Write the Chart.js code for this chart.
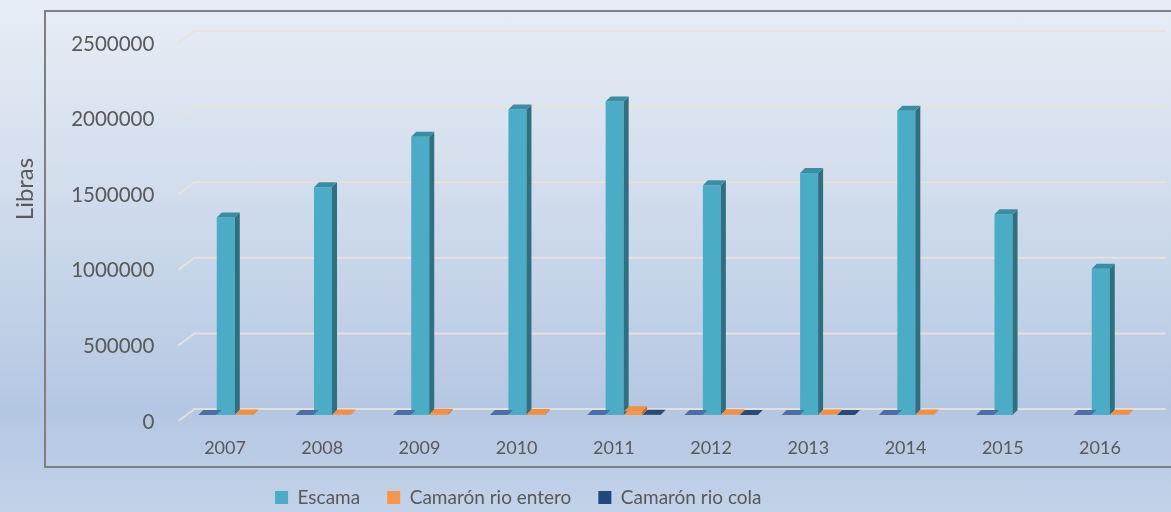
<!DOCTYPE html>
<html>
<head>
<meta charset="utf-8">
<script src="https://cdn.jsdelivr.net/npm/chart.js@4/dist/chart.umd.min.js"></script>
<style>
  html, body { margin: 0; padding: 0; }
  body {
    width: 1171px; height: 512px; overflow: hidden; position: relative;
    background: linear-gradient(to bottom, #e7edf5 0%, #d3deed 35%, #b4c7e2 80%, #c2d2e8 100%);
  }
  #frame {
    position: absolute; left: 44px; top: 10px; width: 1200px; height: 458px;
    border: 2px solid #7f7f7f; box-sizing: border-box;
  }
  #wrap { position: absolute; left: 0; top: 0; width: 1171px; height: 512px; }
</style>
</head>
<body>
<div id="frame"></div>
<div id="wrap"><canvas id="chart" width="1171" height="512"></canvas></div>
<script>
const years = ['2007', '2008', '2009', '2010', '2011', '2012', '2013', '2014', '2015', '2016'];
// serie sin leyenda (la tapa azul a la izquierda de cada grupo)
const otros = [0, 0, 0, 0, 0, 0, 0, 0, 0, 0];
const escama = [1307000, 1507000, 1840000, 2020000, 2073000, 1520000, 1600000, 2013000, 1327000, 967000];
const camaronEntero = [3000, 3000, 8000, 6000, 25000, 5000, 4000, 3000, null, 2000];
const camaronCola = [null, null, null, null, 1500, 800, 800, null, null, null];
const yTicks = [0, 500000, 1000000, 1500000, 2000000, 2500000];

const textColor = '#595959';
const fontFamily = 'Lato, "Noto Sans", sans-serif';

// caras laterales y superiores para dar el efecto 3D
const depth = {
  id: 'depth',
  afterDatasetsDraw(chart) {
    const ctx = chart.ctx;
    const dx = 5, dy = 5;
    chart.data.datasets.forEach((ds, i) => {
      const meta = chart.getDatasetMeta(i);
      meta.data.forEach((bar, j) => {
        if (ds.data[j] === null) return;
        const { x, y, base, width } = bar.getProps(['x', 'y', 'base', 'width'], true);
        const l = x - width / 2, r = x + width / 2;
        ctx.save();
        ctx.fillStyle = ds.sideColor;
        ctx.beginPath();
        ctx.moveTo(r, y); ctx.lineTo(r + dx, y - dy); ctx.lineTo(r + dx, base - dy); ctx.lineTo(r, base);
        ctx.closePath(); ctx.fill();
        ctx.fillStyle = ds.topColor;
        ctx.beginPath();
        ctx.moveTo(l, y); ctx.lineTo(l + dx, y - dy); ctx.lineTo(r + dx, y - dy); ctx.lineTo(r, y);
        ctx.closePath(); ctx.fill();
        ctx.restore();
      });
    });
  }
};

// lineas de la pared del fondo
const backGrid = {
  id: 'backGrid',
  beforeDatasetsDraw(chart) {
    const ctx = chart.ctx;
    const s = chart.scales.y;
    const { left, right } = chart.chartArea;
    ctx.save();
    ctx.strokeStyle = 'rgba(232,226,218,0.9)';
    ctx.lineWidth = 2;
    s.ticks.forEach(t => {
      const y = s.getPixelForValue(t.value);
      ctx.beginPath();
      ctx.moveTo(left - 8, y + 6);
      ctx.lineTo(left + 8, y - 6);
      ctx.lineTo(right + 7, y - 6);
      ctx.stroke();
    });
    ctx.restore();
  }
};

const axisTitle = {
  id: 'axisTitle',
  afterLayout(chart) {
    chart.legend.left -= 61;
    chart.legend.right -= 61;
  },
  afterDraw(chart) {
    const ctx = chart.ctx;
    ctx.save();
    ctx.translate(25, 189);
    ctx.rotate(-Math.PI / 2);
    ctx.font = '24px ' + fontFamily;
    ctx.fillStyle = textColor;
    ctx.textAlign = 'center';
    ctx.textBaseline = 'middle';
    ctx.fillText('Libras', 0, 0);
    ctx.restore();
  }
};

new Chart(document.getElementById('chart').getContext('2d'), {
  type: 'bar',
  data: {
    labels: years,
    datasets: [
      { label: '', data: otros, backgroundColor: '#4f81bd', topColor: '#4a6fa6', sideColor: '#3b5f8f' },
      { label: 'Escama', data: escama, backgroundColor: '#4bacc6', topColor: '#3a8ea3', sideColor: '#2e6f80' },
      { label: 'Camarón rio entero', data: camaronEntero, backgroundColor: '#f79646', topColor: '#f09040', sideColor: '#c06e2c' },
      { label: 'Camarón rio cola', data: camaronCola, backgroundColor: '#1f497d', topColor: '#2b4a73', sideColor: '#1a3658' }
    ]
  },
  options: {
    responsive: false,
    animation: false,
    events: [],
    layout: { padding: { top: 37, right: 12.4, bottom: -5, left: 0 } },
    datasets: { bar: { categoryPercentage: 0.76, barPercentage: 0.975, borderWidth: 0 } },
    scales: {
      x: {
        grid: { display: false },
        border: { display: false },
        ticks: { color: textColor, font: { family: fontFamily, size: 18 }, padding: 14, labelOffset: -10, maxRotation: 0 },
        afterFit(scale) { scale.height = 46; }
      },
      y: {
        min: 0,
        max: 2500000,
        grid: { display: false },
        border: { display: false },
        afterBuildTicks(scale) { scale.ticks = yTicks.map(v => ({ value: v })); },
        ticks: { color: textColor, font: { family: fontFamily, size: 20.5 }, padding: 24, labelOffset: 7, callback: v => String(v) },
        afterFit(scale) { scale.width = 186.4; }
      }
    },
    plugins: {
      legend: {
        position: 'bottom',
        labels: {
          color: textColor,
          font: { family: fontFamily, size: 19 },
          boxWidth: 13,
          boxHeight: 13,
          padding: 27,
          filter: item => item.text !== ''
        }
      },
      tooltip: { enabled: false }
    }
  },
  plugins: [backGrid, depth, axisTitle]
});
</script>
</body>
</html>
